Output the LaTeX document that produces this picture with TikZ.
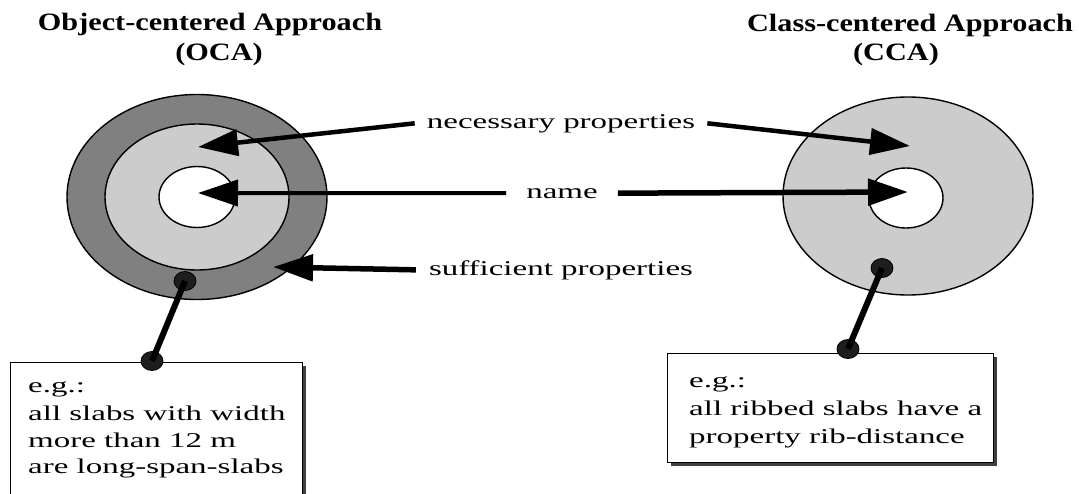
\documentclass[tikz,border=0pt]{standalone}
\usepackage{fontspec}
\setmainfont{Liberation Serif}
\newfontfamily\bodyfont{Liberation Serif}[FakeStretch=1.57]
\newfontfamily\titlefont{Liberation Serif}[FakeStretch=1.21]
\usetikzlibrary{arrows.meta,shapes.geometric,shadows}
\definecolor{ringdark}{HTML}{808080}
\definecolor{ringlight}{HTML}{CCCCCC}
\definecolor{dotc}{HTML}{1E1E1E}
\begin{document}
\begin{tikzpicture}[x=1pt,y=-1pt,
  ring/.style={ellipse,draw=black,line width=1.4pt,inner sep=0pt,outer sep=0pt},
  arrowline/.style={line width=4.5pt,-{Triangle[length=40pt,width=26pt]}},
  lbl/.style={font=\bodyfont\fontsize{21}{26}\selectfont,inner ysep=0pt},
  ttl/.style={font=\titlefont\bfseries\fontsize{25}{30}\selectfont,inner sep=0pt},
  boxtxt/.style={font=\bodyfont\fontsize{21}{26}\selectfont,inner sep=0pt,anchor=base west},
  dot/.style={ellipse,draw=black,fill=dotc,line width=0.8pt,minimum width=22pt,minimum height=19pt,inner sep=0pt},
  pin/.style={line width=6pt,draw=black},
  exbox/.style={draw=black,fill=white,line width=1.2pt,inner sep=0pt,anchor=north west,
    drop shadow={shadow xshift=3pt,shadow yshift=-3pt,fill=black!75,opacity=1}}
]
\useasboundingbox (0,0) rectangle (1079,493);
\clip (0,0) rectangle (1079,493);

% titles
\node[ttl,anchor=base] (tL1) at (210,30) {Object-centered Approach};
\node[ttl,anchor=base] (tL2) at (219,60) {(OCA)};
\node[ttl,anchor=base] (tR1) at (910,31) {Class-centered Approach};
\node[ttl,anchor=base] (tR2) at (896,60) {(CCA)};

% OCA rings
\node[ring,fill=ringdark,minimum width=260pt,minimum height=205pt] (oL) at (197,197) {};
\node[ring,fill=ringlight,minimum width=184pt,minimum height=146pt] (mL) at (197,197) {};
\node[ring,fill=white,minimum width=76pt,minimum height=61pt] (iL) at (197,197) {};

% CCA rings
\node[ring,fill=ringlight,minimum width=250pt,minimum height=198pt] (oR) at (908,196) {};
\node[ring,fill=white,minimum width=74pt,minimum height=60pt] (iR) at (906,198) {};

% labels
\node[lbl,anchor=base,inner xsep=12pt] (nec) at (561,128) {necessary properties};
\node[lbl,anchor=base,inner xsep=20pt] (nm) at (562,198) {name};
\node[lbl,anchor=base,inner xsep=13pt] (suf) at (561,275) {sufficient properties};

% arrow targets
\coordinate (necTL) at (198,147);
\coordinate (necTR) at (910,146);
\coordinate (nmTL) at (198,193);
\coordinate (nmTR) at (908,192);
\coordinate (sufT) at (273,267);

\draw[arrowline] (nec.west) -- (necTL);
\draw[arrowline] (nec.east) -- (necTR);
\draw[arrowline,line width=4pt] (nm.west) -- (nmTL);
\draw[arrowline,line width=5.5pt] (nm.east) -- (nmTR);
\draw[arrowline,line width=5.5pt] (suf.west) -- (sufT);

% example boxes
\node[exbox,minimum width=292pt,minimum height=150pt] (boxL) at (10,362) {};
\node[exbox,minimum width=326pt,minimum height=109pt] (boxR) at (667,353) {};

\node[boxtxt] (L1) at (28,392) {e.g.:};
\node[boxtxt] (L2) at (28,420) {all slabs with width};
\node[boxtxt] (L3) at (28,447) {more than 12 m};
\node[boxtxt] (L4) at (28,473) {are long-span-slabs};

\node[boxtxt] (R1) at (689,387) {e.g.:};
\node[boxtxt] (R2) at (689,415) {all ribbed slabs have a};
\node[boxtxt] (R3) at (689,443) {property rib-distance};

% pins
\node[dot] (pL1) at (185,281) {};
\node[dot] (pL2) at (152,361) {};
\node[dot] (pR1) at (882,268) {};
\node[dot] (pR2) at (848,349) {};
\draw[pin] (pL1.center) -- (pL2.center);
\draw[pin] (pR1.center) -- (pR2.center);
\end{tikzpicture}
\end{document}
